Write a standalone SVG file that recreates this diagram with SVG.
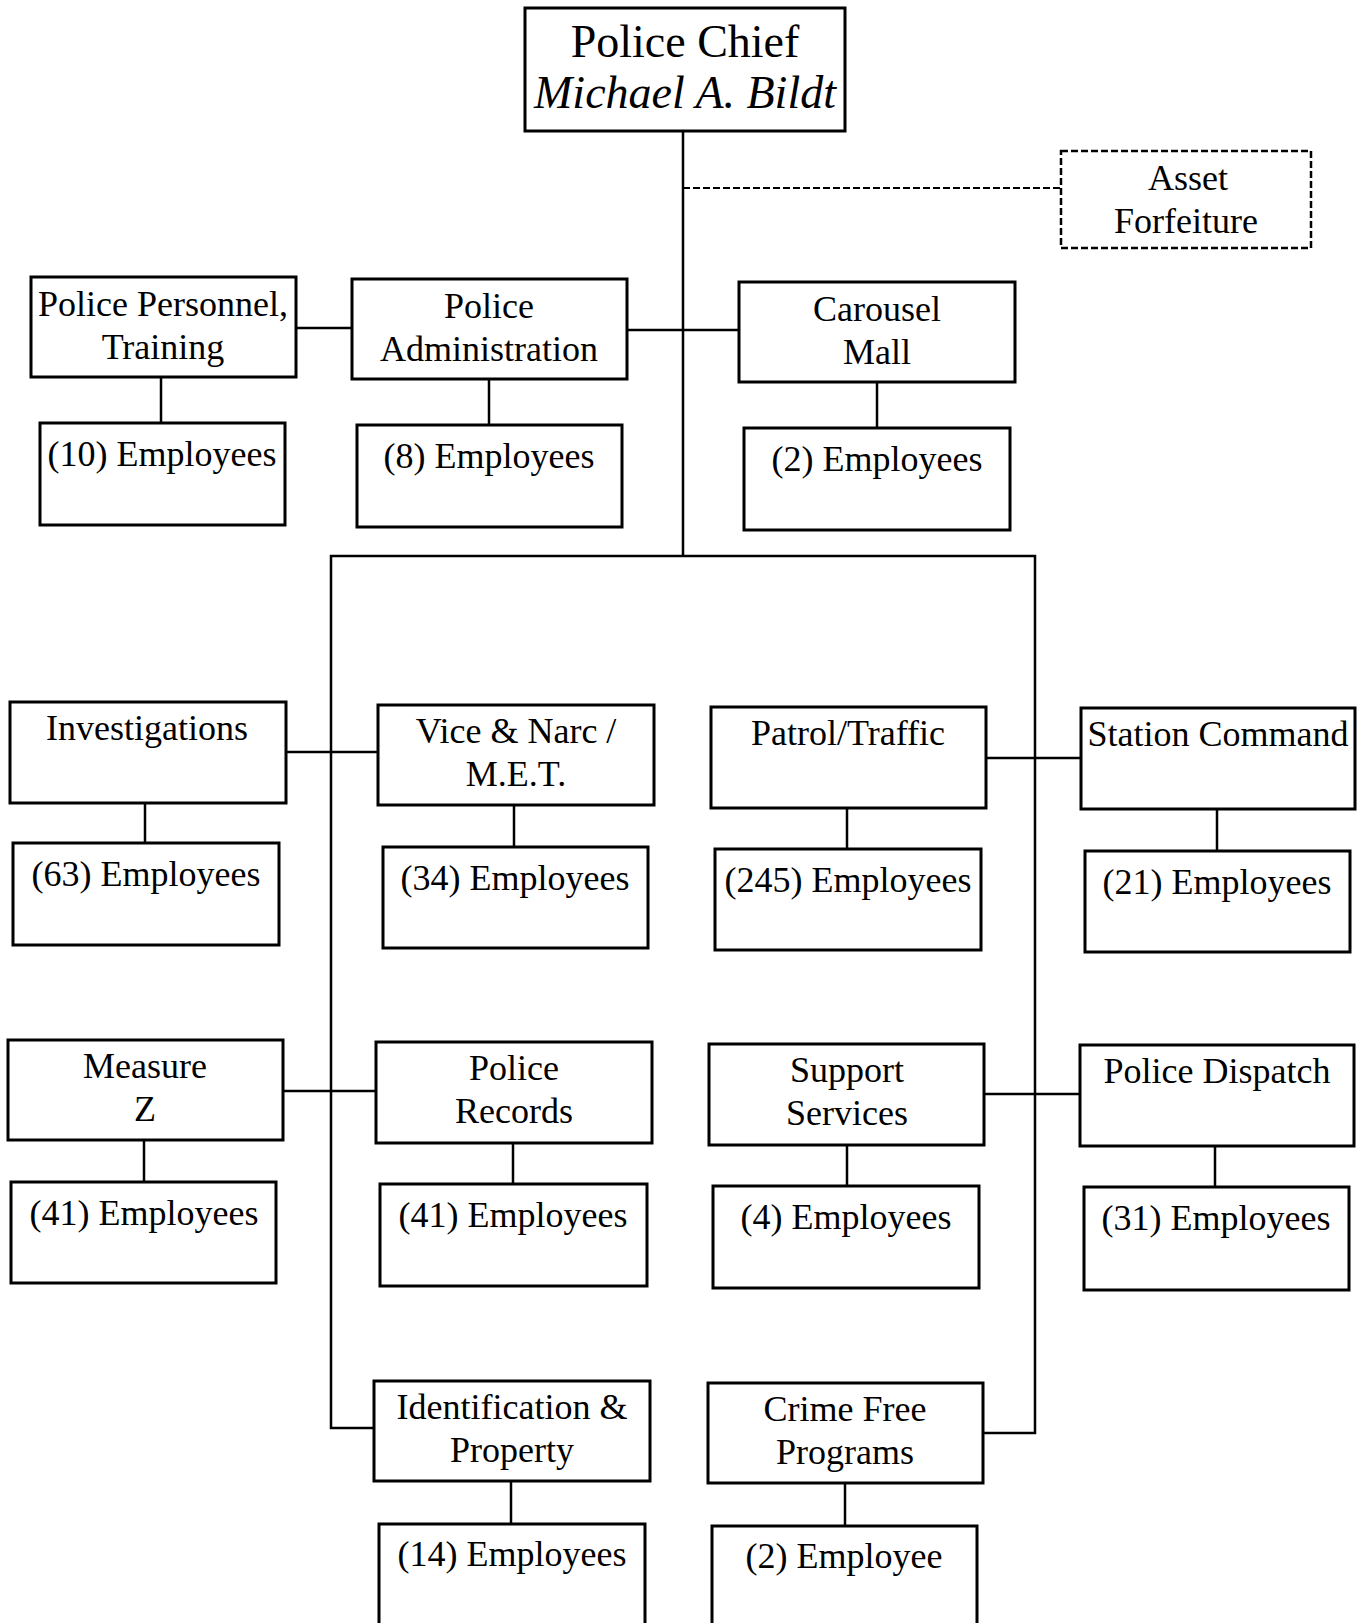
<svg xmlns="http://www.w3.org/2000/svg" width="1361" height="1623" viewBox="0 0 1361 1623">
<style>
.box{fill:#fff;stroke:#000;stroke-width:3}
.dbox{fill:#fff;stroke:#000;stroke-width:2.5;stroke-dasharray:7,3}
.ln{fill:none;stroke:#000;stroke-width:2.5}
.dl{fill:none;stroke:#000;stroke-width:2;stroke-dasharray:7,3}
text{font-family:"Liberation Serif","Times New Roman",serif;font-size:36px;text-anchor:middle;fill:#000}
.big{font-size:46px}
.it{font-style:italic}
</style>
<rect width="1361" height="1623" fill="#fff"/>
<g id="connectors">
<path class="ln" d="M683 131V556"/>
<path class="dl" d="M683 188H1061"/>
<path class="ln" d="M296 328H352"/>
<path class="ln" d="M627 330H739"/>
<path class="ln" d="M161 377V423"/>
<path class="ln" d="M489 379V425"/>
<path class="ln" d="M877 382V428"/>
<path class="ln" d="M374 1428H331V556H1035V1433H983"/>
<path class="ln" d="M286 752H378"/>
<path class="ln" d="M986 758H1081"/>
<path class="ln" d="M283 1091H376"/>
<path class="ln" d="M984 1094H1080"/>
<path class="ln" d="M145 803V843"/>
<path class="ln" d="M514 805V847"/>
<path class="ln" d="M847 808V849"/>
<path class="ln" d="M1217 809V851"/>
<path class="ln" d="M144 1140V1182"/>
<path class="ln" d="M513 1143V1184"/>
<path class="ln" d="M847 1145V1186"/>
<path class="ln" d="M1215 1146V1187"/>
<path class="ln" d="M511 1481V1524"/>
<path class="ln" d="M845 1483V1526"/>
</g>
<g id="chief"><rect class="box" x="525" y="8" width="320" height="123"/><text class="big" x="685" y="57">Police Chief</text><text class="big it" x="685" y="108">Michael A. Bildt</text></g>
<g id="asset"><rect class="dbox" x="1061" y="151" width="250" height="97"/><text x="1188" y="190">Asset</text><text x="1186" y="233">Forfeiture</text></g>
<g id="personnel"><rect class="box" x="31" y="277" width="265" height="100"/><text x="163" y="316">Police Personnel,</text><text x="163" y="359">Training</text></g>
<g id="admin"><rect class="box" x="352" y="279" width="275" height="100"/><text x="489" y="318">Police</text><text x="489" y="361">Administration</text></g>
<g id="carousel"><rect class="box" x="739" y="282" width="276" height="100"/><text x="877" y="321">Carousel</text><text x="877" y="364">Mall</text></g>
<g id="emp10"><rect class="box" x="40" y="423" width="245" height="102"/><text x="162" y="466">(10) Employees</text></g>
<g id="emp8"><rect class="box" x="357" y="425" width="265" height="102"/><text x="489" y="468">(8) Employees</text></g>
<g id="emp2a"><rect class="box" x="744" y="428" width="266" height="102"/><text x="877" y="471">(2) Employees</text></g>
<g id="investigations"><rect class="box" x="10" y="702" width="276" height="101"/><text x="147" y="740">Investigations</text></g>
<g id="vice"><rect class="box" x="378" y="705" width="276" height="100"/><text x="516" y="743">Vice &amp; Narc /</text><text x="516" y="786">M.E.T.</text></g>
<g id="patrol"><rect class="box" x="711" y="707" width="275" height="101"/><text x="848" y="745">Patrol/Traffic</text></g>
<g id="station"><rect class="box" x="1081" y="708" width="274" height="101"/><text x="1218" y="746">Station Command</text></g>
<g id="emp63"><rect class="box" x="13" y="843" width="266" height="102"/><text x="146" y="886">(63) Employees</text></g>
<g id="emp34"><rect class="box" x="383" y="847" width="265" height="101"/><text x="515" y="890">(34) Employees</text></g>
<g id="emp245"><rect class="box" x="715" y="849" width="266" height="101"/><text x="848" y="892">(245) Employees</text></g>
<g id="emp21"><rect class="box" x="1085" y="851" width="265" height="101"/><text x="1217" y="894">(21) Employees</text></g>
<g id="measurez"><rect class="box" x="8" y="1040" width="275" height="100"/><text x="145" y="1078">Measure</text><text x="145" y="1121">Z</text></g>
<g id="records"><rect class="box" x="376" y="1042" width="276" height="101"/><text x="514" y="1080">Police</text><text x="514" y="1123">Records</text></g>
<g id="support"><rect class="box" x="709" y="1044" width="275" height="101"/><text x="847" y="1082">Support</text><text x="847" y="1125">Services</text></g>
<g id="dispatch"><rect class="box" x="1080" y="1045" width="274" height="101"/><text x="1217" y="1083">Police Dispatch</text></g>
<g id="emp41a"><rect class="box" x="11" y="1182" width="265" height="101"/><text x="144" y="1225">(41) Employees</text></g>
<g id="emp41b"><rect class="box" x="380" y="1184" width="267" height="102"/><text x="513" y="1227">(41) Employees</text></g>
<g id="emp4"><rect class="box" x="713" y="1186" width="266" height="102"/><text x="846" y="1229">(4) Employees</text></g>
<g id="emp31"><rect class="box" x="1084" y="1187" width="265" height="103"/><text x="1216" y="1230">(31) Employees</text></g>
<g id="identification"><rect class="box" x="374" y="1381" width="276" height="100"/><text x="512" y="1419">Identification &amp;</text><text x="512" y="1462">Property</text></g>
<g id="crimefree"><rect class="box" x="708" y="1383" width="275" height="100"/><text x="845" y="1421">Crime Free</text><text x="845" y="1464">Programs</text></g>
<g id="emp14"><rect class="box" x="379" y="1524" width="266" height="110"/><text x="512" y="1566">(14) Employees</text></g>
<g id="emp2b"><rect class="box" x="712" y="1526" width="265" height="110"/><text x="844" y="1568">(2) Employee</text></g>
</svg>
